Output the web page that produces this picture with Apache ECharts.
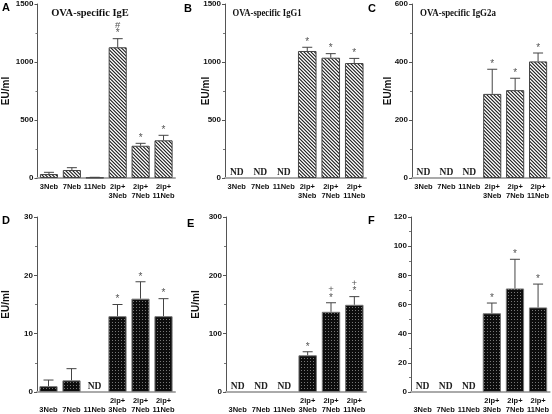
<!DOCTYPE html>
<html><head><meta charset="utf-8">
<script src="https://cdn.jsdelivr.net/npm/echarts@6/dist/echarts.min.js"></script>
<style>html,body{margin:0;padding:0;background:#fff}#c{width:552px;height:414px}</style>
</head><body><div id="c"></div>
<script>
const categories = ['3Neb', '7Neb', '11Neb', '2ip+\n3Neb', '2ip+\n7Neb', '2ip+\n11Neb'];

const igeMean = [34, 69, 3, 1127, 278, 325];
const igeSem = [15, 20, 3, 74, 21, 43];
const igeNote = ['', '', '', '#\n*', '*', '*'];

const igg1Mean = [null, null, null, 1095, 1037, 991];
const igg1Sem = [null, null, null, 32, 35, 40];
const igg1Note = ['', '', '', '*', '*', '*'];

const igg2aMean = [null, null, null, 290, 303, 402];
const igg2aSem = [null, null, null, 85, 41, 29];
const igg2aNote = ['', '', '', '*', '*', '*'];

const dMean = [1, 2, null, 13, 16, 13];
const dSem = [1.05, 2, null, 2, 2.9, 3];
const dNote = ['', '', '', '*', '*', '*'];

const eMean = [null, null, null, 63, 137.5, 149.5];
const eSem = [null, null, null, 6, 15.5, 14];
const eNote = ['', '', '', '*', '+\n*', '+\n*'];

const fMean = [null, null, null, 54, 71, 58];
const fSem = [null, null, null, 7, 20, 16];
const fNote = ['', '', '', '*', '*', '*'];

const titles = ['OVA-specific IgE', 'OVA-specific IgG1', 'OVA-specific IgG2a'];
const letters = ['A', 'B', 'C', 'D', 'E', 'F'];
const yMax = [1500, 1500, 600, 30, 300, 120];
const yStep = [500, 500, 200, 10, 100, 20];
const yName = ['EU/ml', 'EU/ml', 'EU/ml', 'EU/ml', 'EU/ml', ''];

function hatchPattern() {
  const c = document.createElement('canvas');
  c.width = 7; c.height = 7;
  const g = c.getContext('2d');
  g.fillStyle = '#fff'; g.fillRect(0, 0, 7, 7);
  g.strokeStyle = '#1a1a1a'; g.lineWidth = 1.1;
  g.beginPath();
  g.moveTo(-1, -1); g.lineTo(8, 8);
  g.moveTo(2.5, -1); g.lineTo(8, 4.5);
  g.moveTo(-1, 2.5); g.lineTo(4.5, 8);
  g.moveTo(6, -1); g.lineTo(8, 1);
  g.moveTo(-1, 6); g.lineTo(1, 8);
  g.stroke();
  return { image: c, repeat: 'repeat' };
}
function dotPattern() {
  const c = document.createElement('canvas');
  c.width = 3; c.height = 3;
  const g = c.getContext('2d');
  g.fillStyle = '#0d0d0d'; g.fillRect(0, 0, 3, 3);
  g.fillStyle = '#777'; g.fillRect(1, 1, 1, 1);
  return { image: c, repeat: 'repeat' };
}

const panels = [
  { mean: igeMean, sem: igeSem, note: igeNote, showND: false },
  { mean: igg1Mean, sem: igg1Sem, note: igg1Note, showND: true },
  { mean: igg2aMean, sem: igg2aSem, note: igg2aNote, showND: true },
  { mean: dMean, sem: dSem, note: dNote, showND: true },
  { mean: eMean, sem: eSem, note: eNote, showND: true },
  { mean: fMean, sem: fSem, note: fNote, showND: true }
];

const gridPos = [
  { left: 36, top: 4, width: 139, height: 174 },
  { left: 225, top: 4, width: 141, height: 174 },
  { left: 412, top: 4, width: 139, height: 174 },
  { left: 36, top: 217, width: 139, height: 176 },
  { left: 226, top: 217, width: 140, height: 176 },
  { left: 411, top: 217, width: 140, height: 176 }
];
const nameGaps = [26.5, 14, 19, 26, 24.5, 20];

const sans = 'Liberation Sans, Arial, sans-serif';
const serif = 'Liberation Serif, Times New Roman, serif';

const grid = [], xAxis = [], yAxis = [], series = [];
const hatch = hatchPattern(), dots = dotPattern();

panels.forEach((p, k) => {
  grid.push(Object.assign({ containLabel: false }, gridPos[k]));
  xAxis.push({
    type: 'category', gridIndex: k, data: categories,
    axisLine: { lineStyle: { color: '#aaa', width: 2 } },
    axisTick: { alignWithLabel: true, length: 2, lineStyle: { color: '#888' } },
    axisLabel: {
      interval: 0, fontFamily: sans, fontWeight: 'bold', fontSize: 7.5, color: '#111', margin: 4, lineHeight: 9,
      formatter: k < 3 ? (v => v) : (v => v.indexOf('\n') < 0 ? '\n' + v : v)
    }
  });
  yAxis.push({
    type: 'value', gridIndex: k, min: 0, max: yMax[k], interval: yStep[k],
    name: yName[k], nameLocation: 'middle', nameGap: nameGaps[k], nameRotate: 90, nameMoveOverlap: false,
    nameTextStyle: { fontFamily: sans, fontWeight: 'bold', fontSize: 10, color: '#111' },
    axisLine: { show: true, lineStyle: { color: '#555', width: 1 } },
    axisTick: { show: true, length: 3, lineStyle: { color: '#555' } },
    minorTick: { show: true, splitNumber: 2, length: 2, lineStyle: { color: '#777' } },
    splitLine: { show: false },
    axisLabel: { fontFamily: sans, fontWeight: 'bold', fontSize: 8, color: '#111', margin: 4, formatter: v => String(v) }
  });
  series.push({
    type: 'bar', xAxisIndex: k, yAxisIndex: k, data: p.mean,
    barCategoryGap: '21%',
    itemStyle: { color: k < 3 ? hatch : dots, borderColor: k < 3 ? '#444' : '#777', borderWidth: 1 },
    emphasis: { disabled: true }, animation: false
  });
  series.push({
    type: 'custom', xAxisIndex: k, yAxisIndex: k,
    data: categories.map((c, i) => [i, p.mean[i] == null ? 0 : p.mean[i], p.mean[i] == null ? 0 : p.mean[i] + p.sem[i]]),
    renderItem: function (params, api) {
      const i = params.dataIndex;
      const children = [];
      if (p.mean[i] == null) {
        if (p.showND) {
          const z = api.coord([i, 0]);
          children.push({ type: 'text', style: { text: 'ND', x: z[0], y: z[1] - 0.5, align: 'center', verticalAlign: 'bottom', font: 'bold 9.5px ' + serif, fill: '#222' } });
        }
        return { type: 'group', children: children };
      }
      const b = api.coord([i, p.mean[i]]);
      const t = api.coord([i, p.mean[i] + p.sem[i]]);
      const lc = '#444';
      children.push({ type: 'line', shape: { x1: b[0], y1: b[1], x2: t[0], y2: t[1] }, style: { stroke: lc, lineWidth: 1 } });
      children.push({ type: 'line', shape: { x1: t[0] - 5, y1: t[1], x2: t[0] + 5, y2: t[1] }, style: { stroke: lc, lineWidth: 1 } });
      const lines = p.note[i] ? p.note[i].split('\n').reverse() : [];
      lines.forEach((s, j) => {
        const isStar = s === '*';
        children.push({ type: 'text', style: { text: s, x: t[0], y: t[1] - (isStar ? 5 : 6) - j * 7.5, align: 'center', verticalAlign: 'middle', font: (isStar ? '10px ' : '9.5px ') + sans, fill: '#555' } });
      });
      return { type: 'group', children: children };
    },
    animation: false, z: 5
  });
});

const graphic = [];
const letterPos = [[2, 2], [184, 3], [368, 3], [2, 215], [187, 218], [368, 215]];
letters.forEach((l, k) => {
  graphic.push({ type: 'text', left: letterPos[k][0], top: letterPos[k][1], style: { text: l, font: 'bold 11px ' + sans, fill: '#000' } });
});
const titleCx = [90, 267, 458];
const titleScale = [1, 0.82, 0.85];
titles.forEach((t, k) => {
  graphic.push({ type: 'text', x: titleCx[k], y: 13, scaleX: titleScale[k], style: { text: t, x: 0, y: 0, align: 'center', verticalAlign: 'middle', font: 'bold 10.5px ' + serif, fill: '#111' } });
});

const chart = echarts.init(document.getElementById('c'), null, { renderer: 'canvas' });
chart.setOption({ animation: false, grid: grid, xAxis: xAxis, yAxis: yAxis, series: series, graphic: graphic });
</script></body></html>
